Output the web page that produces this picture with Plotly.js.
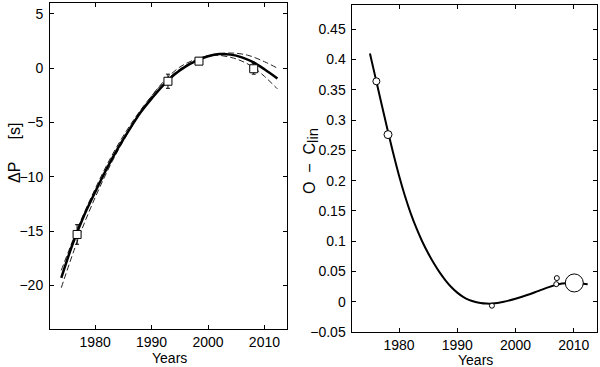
<!DOCTYPE html>
<html><head><meta charset="utf-8">
<script src="https://cdn.plot.ly/plotly-3.0.1.min.js"></script>
<style>html,body{margin:0;padding:0;background:#fff}#chart{width:600px;height:367px}</style>
</head><body><div id="chart"></div>
<script>
// ---- Left panel: period change ΔP [s] ----
var fitYears = [1974, 1976, 1978, 1980, 1982, 1984, 1986, 1988, 1990, 1992, 1994, 1996, 1998, 2000, 2002, 2004, 2006, 2008, 2010, 2012.3];
var fitDP    = [-19.3, -16.2, -13.6, -11.4, -9.3, -7.4, -5.7, -4.1, -2.8, -1.6, -0.6, 0.15, 0.7, 1.1, 1.3, 1.25, 1.0, 0.55, -0.1, -0.95];

var upperYears = [1974, 1977, 1980, 1983, 1986, 1989, 1992, 1995, 1998, 2001, 2004, 2007, 2010, 2012.3];
var upperDP    = [-18.6, -14.6, -11.1, -8.0, -5.4, -3.2, -1.4, -0.1, 0.8, 1.25, 1.4, 1.2, 0.6, 0.0];

var lowerYears = [1974, 1977, 1980, 1983, 1986, 1989, 1992, 1995, 1998, 2001, 2004, 2006, 2008, 2010, 2012.3];
var lowerDP    = [-20.2, -15.7, -11.9, -8.6, -5.8, -3.3, -1.3, 0.1, 0.85, 1.2, 1.0, 0.65, 0.1, -0.75, -1.9];

var obsYears = [1976.8, 1992.9, 1998.4, 2008.1];
var obsDP    = [-15.3, -1.2, 0.65, -0.05];
var obsErr   = [0.9, 0.65, 0.3, 0.5];

// ---- Right panel: O−C residuals ----
var ocFitYears = [1975, 1976, 1977, 1978, 1979, 1980, 1981, 1982, 1983, 1984, 1985, 1986, 1987, 1988, 1989, 1990, 1991, 1992, 1993, 1994, 1995, 1996, 1998, 2000, 2002, 2004, 2006, 2008, 2010, 2012.4];
var ocFit      = [0.410, 0.368, 0.326, 0.285, 0.245, 0.208, 0.175, 0.146, 0.121, 0.099, 0.080, 0.063, 0.048, 0.035, 0.024, 0.015, 0.008, 0.003, 0.000, -0.002, -0.003, -0.003, 0.000, 0.005, 0.011, 0.018, 0.025, 0.030, 0.031, 0.029];

var ocYears = [1976.1, 1978.1, 1995.95, 2007.0, 2007.1, 2010.1];
var ocVals  = [0.364, 0.276, -0.0066, 0.029, 0.039, 0.031];
var ocSizes = [7, 8, 5, 5, 5, 18];

var FAM = 'Liberation Sans, Arial, Helvetica, sans-serif';
var font = {family: FAM, size: 14, color: '#000'};
var xTitleFont = {family: FAM, size: 14, color: '#000'};
var yTitleFont = {family: FAM, size: 16, color: '#000'};

var traces = [
  {x: upperYears, y: upperDP, mode: 'lines', line: {color: '#222', width: 1, dash: '6px,3px', shape: 'spline'}, xaxis: 'x', yaxis: 'y', hoverinfo: 'skip'},
  {x: lowerYears, y: lowerDP, mode: 'lines', line: {color: '#222', width: 1, dash: '6px,3px', shape: 'spline'}, xaxis: 'x', yaxis: 'y', hoverinfo: 'skip'},
  {x: fitYears, y: fitDP, mode: 'lines', line: {color: '#000', width: 2.5, shape: 'spline'}, xaxis: 'x', yaxis: 'y'},
  {x: obsYears, y: obsDP, mode: 'markers', xaxis: 'x', yaxis: 'y',
   error_y: {type: 'data', array: obsErr, visible: true, color: '#000', thickness: 1, width: 2},
   marker: {symbol: 'square', size: 8, color: '#ffffff', opacity: 1, line: {color: '#000', width: 1}}},
  {x: ocFitYears, y: ocFit, mode: 'lines', line: {color: '#000', width: 2, shape: 'spline'}, xaxis: 'x2', yaxis: 'y2'},
  {x: ocYears, y: ocVals, mode: 'markers', xaxis: 'x2', yaxis: 'y2',
   marker: {symbol: 'circle', size: ocSizes, color: '#ffffff', opacity: 1, line: {color: '#000', width: 1}}}
];

var axBase = {
  showline: true, mirror: 'ticks', linecolor: '#000', linewidth: 1,
  ticks: 'inside', ticklen: 4, tickcolor: '#000', tickwidth: 1,
  showgrid: false, zeroline: false, tickfont: font
};
function ax(extra) { return Object.assign({}, axBase, extra); }

// pixel helpers for annotation placement (plot area: l=50, t=3, w=547, h=329)
function px(x) { return (x - 50) / 547; }
function py(y) { return (332 - y) / 329; }

var layout = {
  width: 600, height: 367,
  margin: {l: 50, r: 3, t: 3, b: 35},
  paper_bgcolor: '#fff', plot_bgcolor: '#fff',
  showlegend: false, font: font,
  xaxis: ax({domain: [0, 0.4333], range: [1972, 2014], tickvals: [1980, 1990, 2000, 2010], anchor: 'y', ticklabelstandoff: 0}),
  yaxis: ax({domain: [0.0091, 1], range: [-24, 6], tickvals: [-20, -15, -10, -5, 0, 5], anchor: 'x', ticklabelstandoff: 3}),
  xaxis2: ax({domain: [0.553, 1], range: [1972, 2014], tickvals: [1980, 1990, 2000, 2010], anchor: 'y2', ticklabelstandoff: 0}),
  yaxis2: ax({domain: [0, 0.9939], range: [-0.05, 0.49], tickvals: [-0.05, 0, 0.05, 0.1, 0.15, 0.2, 0.25, 0.3, 0.35, 0.4, 0.45],
              ticktext: ['−0.05', '0', '0.05', '0.1', '0.15', '0.2', '0.25', '0.3', '0.35', '0.4', '0.45'],
              anchor: 'x2', ticklabelstandoff: 3}),
  annotations: [
    {text: 'ΔP\u00A0\u00A0\u00A0\u00A0\u00A0[s]', xref: 'paper', yref: 'paper', x: px(14), y: py(153),
     xanchor: 'center', yanchor: 'middle', showarrow: false, font: yTitleFont, textangle: -90},
    {text: 'O\u00A0\u00A0−\u00A0\u00A0C<sub><span style="font-size:15px">lin</span></sub>', xref: 'paper', yref: 'paper', x: px(311), y: py(161),
     xanchor: 'center', yanchor: 'middle', showarrow: false, font: yTitleFont, textangle: -90},
    {text: 'Years', xref: 'paper', yref: 'paper', x: px(169), y: py(357.5),
     xanchor: 'center', yanchor: 'middle', showarrow: false, font: xTitleFont},
    {text: 'Years', xref: 'paper', yref: 'paper', x: px(475), y: py(360),
     xanchor: 'center', yanchor: 'middle', showarrow: false, font: xTitleFont}
  ]
};

Plotly.newPlot('chart', traces, layout, {displayModeBar: false, staticPlot: true});
</script></body></html>
